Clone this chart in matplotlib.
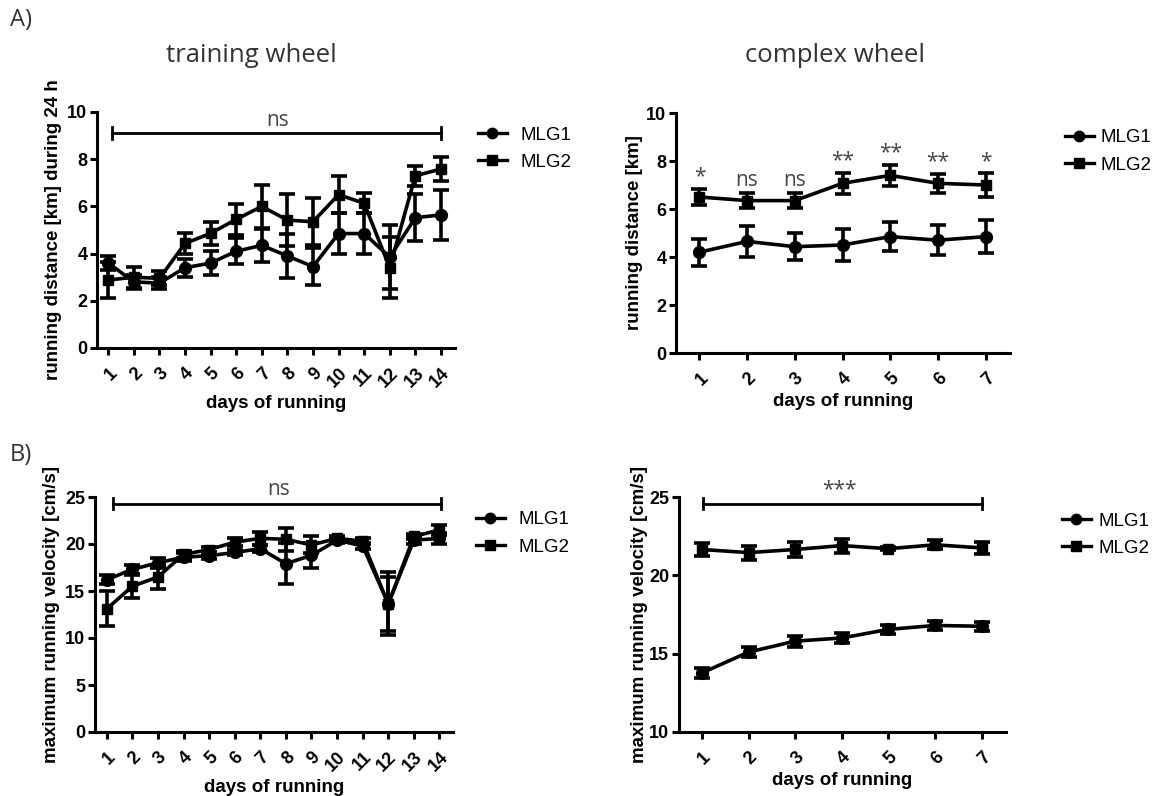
import numpy as np
import matplotlib
matplotlib.use("Agg")
import matplotlib.pyplot as plt
from matplotlib.lines import Line2D

plt.rcParams["font.family"] = ["Liberation Sans", "DejaVu Sans"]

# training wheel: 14 days, complex wheel: 7 days
days_training = [1, 2, 3, 4, 5, 6, 7, 8, 9, 10, 11, 12, 13, 14]
days_complex = [1, 2, 3, 4, 5, 6, 7]

# running distance [km] during 24 h (mean, SEM)
dist_tr_mlg1 = [3.6, 2.8, 2.75, 3.4, 3.6, 4.1, 4.35, 3.9, 3.45, 4.85, 4.85, 3.85, 5.52, 5.64]
dist_tr_mlg1_sem = [0.3, 0.3, 0.25, 0.38, 0.5, 0.56, 0.7, 0.95, 0.8, 0.85, 0.85, 1.35, 1.0, 1.07]
dist_tr_mlg2 = [2.88, 3.0, 2.95, 4.43, 4.86, 5.45, 6.0, 5.42, 5.35, 6.5, 6.13, 3.4, 7.3, 7.58]
dist_tr_mlg2_sem = [0.78, 0.45, 0.3, 0.45, 0.5, 0.67, 0.9, 1.1, 1.0, 0.8, 0.43, 1.3, 0.42, 0.5]

dist_cx_mlg1 = [4.2, 4.65, 4.43, 4.5, 4.85, 4.7, 4.85]
dist_cx_mlg1_sem = [0.57, 0.66, 0.55, 0.67, 0.6, 0.62, 0.7]
dist_cx_mlg2 = [6.5, 6.35, 6.35, 7.07, 7.4, 7.07, 7.0]
dist_cx_mlg2_sem = [0.35, 0.3, 0.3, 0.45, 0.45, 0.4, 0.48]
dist_cx_signif = ["*", "ns", "ns", "**", "**", "**", "*"]

# maximum running velocity [cm/s] (mean, SEM)
vel_tr_mlg1 = [16.2, 17.3, 18.0, 18.6, 18.75, 19.1, 19.5, 17.9, 18.8, 20.4, 19.8, 13.65, 20.4, 20.6]
vel_tr_mlg1_sem = [0.5, 0.5, 0.55, 0.4, 0.3, 0.3, 0.4, 2.2, 1.3, 0.3, 0.3, 3.35, 0.4, 0.6]
vel_tr_mlg2 = [13.1, 15.5, 16.5, 18.9, 19.4, 20.2, 20.6, 20.5, 19.9, 20.6, 20.3, 13.6, 20.8, 21.5]
vel_tr_mlg2_sem = [1.85, 1.25, 1.3, 0.4, 0.3, 0.4, 0.7, 1.2, 0.9, 0.2, 0.3, 2.9, 0.3, 0.55]

vel_cx_mlg1 = [13.77, 15.1, 15.8, 16.0, 16.55, 16.8, 16.75]
vel_cx_mlg1_sem = [0.3, 0.3, 0.35, 0.35, 0.3, 0.3, 0.3]
vel_cx_mlg2 = [21.65, 21.45, 21.65, 21.9, 21.7, 21.95, 21.75]
vel_cx_mlg2_sem = [0.4, 0.45, 0.45, 0.45, 0.1, 0.3, 0.4]

LABEL_FONT = dict(fontsize=13.5, fontweight="bold")
NOTE_FONT = dict(family="Open Sans", color="#444444")
TICK_SIZE = 13


def style_axis(ax, days, ylim, yticks, xlim):
    ax.set_xlim(*xlim)
    ax.set_ylim(*ylim)
    ax.set_yticks(yticks)
    ax.set_xticks(days)
    ax.set_xticklabels([str(d) for d in days], rotation=45, ha="right",
                       rotation_mode="anchor", fontsize=TICK_SIZE, fontweight="bold")
    for lbl in ax.get_yticklabels():
        lbl.set_fontsize(TICK_SIZE)
        lbl.set_fontweight("bold")
    ax.spines["top"].set_visible(False)
    ax.spines["right"].set_visible(False)
    for s in ("left", "bottom"):
        ax.spines[s].set_linewidth(2.2)
    ax.tick_params(direction="out", length=5, width=2.2, pad=2)
    ax.tick_params(axis="x", pad=7)
    ax.set_xlabel("days of running", labelpad=3, **LABEL_FONT)


def draw_groups(ax, days, m1, e1, m2, e2):
    kw = dict(color="black", lw=2.6, elinewidth=2.6, capsize=5.5, capthick=2.6)
    ax.errorbar(days, m1, yerr=e1, marker="o", markersize=8.5, **kw)
    ax.errorbar(days, m2, yerr=e2, marker="s", markersize=7.5, **kw)


def add_legend(fig, x, y, pad=0.75):
    handles = [
        Line2D([], [], color="black", lw=2.4, marker="o", markersize=7.5),
        Line2D([], [], color="black", lw=2.4, marker="s", markersize=7),
    ]
    fig.legend(handles, ["MLG1", "MLG2"], loc="upper left",
               bbox_to_anchor=(x, y), bbox_transform=fig.transFigure,
               frameon=False, fontsize=13.5, handlelength=1.5,
               handletextpad=pad, labelspacing=0.55, borderpad=0)


def bracket(ax, x0, x1, y, tick):
    ax.plot([x0, x1], [y, y], color="black", lw=2, clip_on=False)
    for x in (x0, x1):
        ax.plot([x, x], [y - tick, y + tick], color="black", lw=2, clip_on=False)


fig = plt.figure(figsize=(11.61, 7.96), dpi=100)
W, H = 1161, 796


def rect(l, r, t, b):
    return [l / W, 1 - b / H, (r - l) / W, (b - t) / H]


# A) running distance
ax1 = fig.add_axes(rect(97, 455, 112, 348))
draw_groups(ax1, days_training, dist_tr_mlg1, dist_tr_mlg1_sem,
            dist_tr_mlg2, dist_tr_mlg2_sem)
style_axis(ax1, days_training, (0, 10), [0, 2, 4, 6, 8, 10], (0.56, 14.55))
ax1.set_ylabel("running distance [km] during 24 h", labelpad=4, **LABEL_FONT)
bracket(ax1, 1.14, 14, 9.1, 0.25)
ax1.text(7.6, 9.2, "ns", ha="center", va="bottom", fontsize=15, **NOTE_FONT)
add_legend(fig, 469 / W, 1 - 117 / H)

ax2 = fig.add_axes(rect(676, 1010, 113, 353))
draw_groups(ax2, days_complex, dist_cx_mlg1, dist_cx_mlg1_sem,
            dist_cx_mlg2, dist_cx_mlg2_sem)
style_axis(ax2, days_complex, (0, 10), [0, 2, 4, 6, 8, 10], (0.51, 7.51))
ax2.set_ylabel("running distance [km]", labelpad=2, **LABEL_FONT)
for d, m, e, s in zip(days_complex, dist_cx_mlg2, dist_cx_mlg2_sem, dist_cx_signif):
    off = 0.1 if s == "ns" else 0.05
    ax2.text(d, m + e + off, s, ha="center", va="bottom", fontsize=15, **NOTE_FONT)
add_legend(fig, 1056 / W, 1 - 120 / H, pad=0.4)

# B) maximum running velocity
ax3 = fig.add_axes(rect(95, 453, 497, 732))
draw_groups(ax3, days_training, vel_tr_mlg1, vel_tr_mlg1_sem,
            vel_tr_mlg2, vel_tr_mlg2_sem)
style_axis(ax3, days_training, (0, 25), [0, 5, 10, 15, 20, 25], (0.54, 14.53))
ax3.set_ylabel("maximum running velocity [cm/s]", labelpad=4, **LABEL_FONT)
bracket(ax3, 1.23, 14.05, 24.3, 0.6)
ax3.text(7.7, 24.7, "ns", ha="center", va="bottom", fontsize=15, **NOTE_FONT)
add_legend(fig, 467 / W, 1 - 502 / H)

ax4 = fig.add_axes(rect(679, 1006, 497, 732))
draw_groups(ax4, days_complex, vel_cx_mlg1, vel_cx_mlg1_sem,
            vel_cx_mlg2, vel_cx_mlg2_sem)
style_axis(ax4, days_complex, (10, 25), [10, 15, 20, 25], (0.51, 7.52))
ax4.set_ylabel("maximum running velocity [cm/s]", labelpad=1, **LABEL_FONT)
bracket(ax4, 1.02, 7.0, 24.57, 0.35)
ax4.text(3.95, 24.8, "***", ha="center", va="bottom", fontsize=15, **NOTE_FONT)
add_legend(fig, 1053 / W, 1 - 503 / H, pad=0.45)

# panel titles and letters
fig.text(251 / W, 1 - 55 / H, "training wheel", ha="center", va="center",
         fontsize=18.5, family="Open Sans", color="#333333")
fig.text(835 / W, 1 - 55 / H, "complex wheel", ha="center", va="center",
         fontsize=18.5, family="Open Sans", color="#333333")
fig.text(10 / W, 1 - 20 / H, "A)", ha="left", va="center",
         fontsize=17, family="Open Sans", color="#333333")
fig.text(10 / W, 1 - 455 / H, "B)", ha="left", va="center",
         fontsize=17, family="Open Sans", color="#333333")

fig.savefig("out.png", dpi=100)
